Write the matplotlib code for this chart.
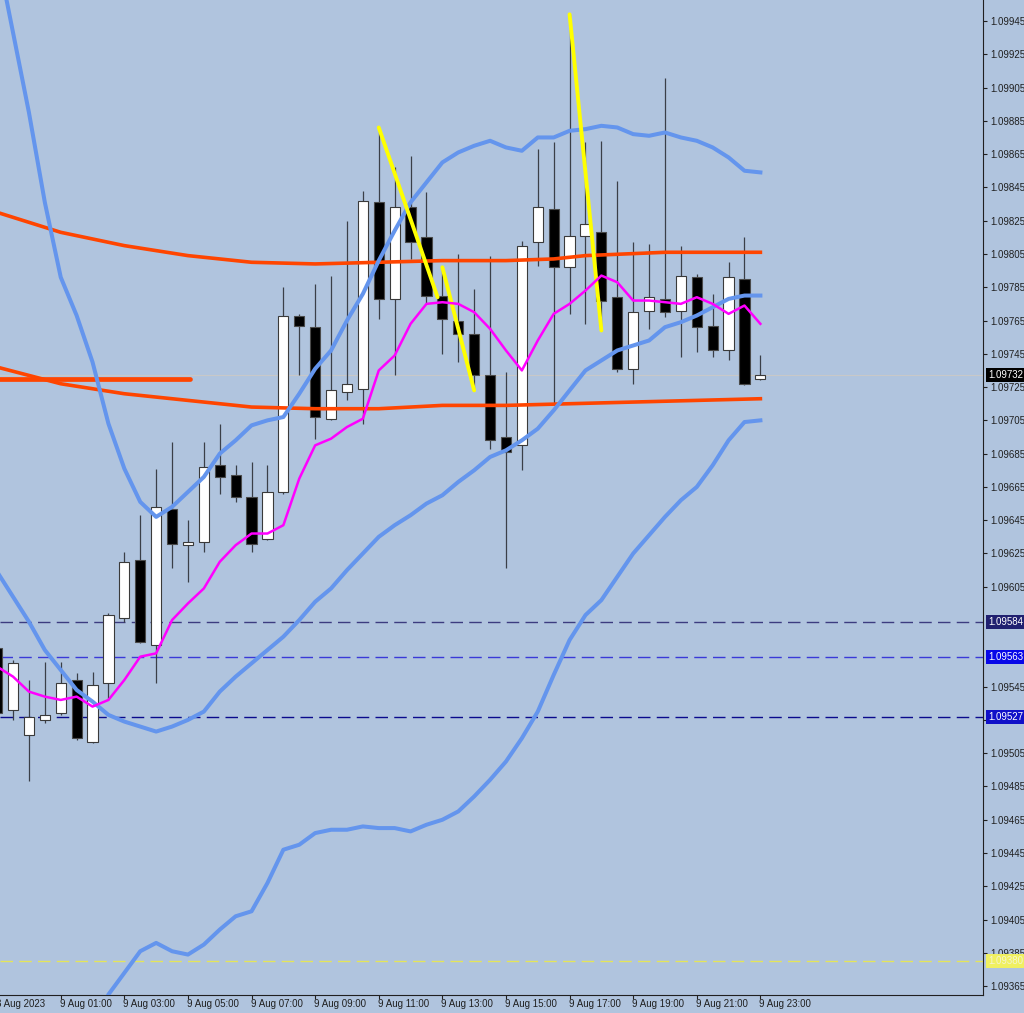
import matplotlib
matplotlib.use("Agg")
import matplotlib.pyplot as plt
import matplotlib.transforms as mtransforms
import numpy as np

# EURUSD M30, bar index 0 = 9 Aug 00:00
bar_idx = list(range(-2, 47))
opens = [1.09568, 1.09531, 1.09516, 1.09525, 1.09529, 1.09549, 1.09512, 1.09547, 1.09586, 1.09621,
         1.09570, 1.09652, 1.09630, 1.09632, 1.09678, 1.09672, 1.09659, 1.09634, 1.09662, 1.09768,
         1.09761, 1.09706, 1.09722, 1.09724, 1.09836, 1.09778, 1.09833, 1.09815, 1.09780, 1.09765,
         1.09757, 1.09732, 1.09695, 1.09690, 1.09812, 1.09832, 1.09797, 1.09816, 1.09818, 1.09779,
         1.09736, 1.09771, 1.09778, 1.09771, 1.09791, 1.09762, 1.09747, 1.09790, 1.09730]
highs = [1.09570, 1.09561, 1.09549, 1.09560, 1.09560, 1.09553, 1.09554, 1.09589, 1.09626, 1.09648,
         1.09676, 1.09692, 1.09645, 1.09692, 1.09703, 1.09678, 1.09680, 1.09678, 1.09785, 1.09769,
         1.09787, 1.09792, 1.09825, 1.09843, 1.09881, 1.09857, 1.09864, 1.09842, 1.09797, 1.09805,
         1.09784, 1.09804, 1.09734, 1.09813, 1.09868, 1.09872, 1.09949, 1.09872, 1.09873, 1.09849,
         1.09812, 1.09811, 1.09911, 1.09810, 1.09793, 1.09781, 1.09800, 1.09815, 1.09744]
lows = [1.09527, 1.09525, 1.09488, 1.09523, 1.09528, 1.09513, 1.09511, 1.09537, 1.09584, 1.09571,
        1.09547, 1.09616, 1.09608, 1.09626, 1.09661, 1.09656, 1.09626, 1.09633, 1.09661, 1.09732,
        1.09694, 1.09705, 1.09717, 1.09703, 1.09766, 1.09732, 1.09802, 1.09775, 1.09745, 1.09740,
        1.09723, 1.09688, 1.09616, 1.09675, 1.09798, 1.09714, 1.09769, 1.09763, 1.09759, 1.09734,
        1.09727, 1.09760, 1.09767, 1.09743, 1.09746, 1.09743, 1.09741, 1.09726, 1.09729]
closes = [1.09529, 1.09559, 1.09527, 1.09528, 1.09547, 1.09514, 1.09546, 1.09588, 1.09620, 1.09572,
          1.09653, 1.09631, 1.09632, 1.09677, 1.09671, 1.09659, 1.09631, 1.09662, 1.09768, 1.09762,
          1.09707, 1.09723, 1.09727, 1.09837, 1.09778, 1.09833, 1.09812, 1.09780, 1.09766, 1.09757,
          1.09732, 1.09693, 1.09686, 1.09810, 1.09833, 1.09797, 1.09816, 1.09823, 1.09777, 1.09736,
          1.09770, 1.09779, 1.09770, 1.09792, 1.09761, 1.09747, 1.09791, 1.09727, 1.09732]

bb_upper = [1.09986, 1.09938, 1.09890, 1.09836, 1.09791, 1.09768, 1.09740, 1.09703, 1.09676, 1.09656,
            1.09647, 1.09653, 1.09662, 1.09671, 1.09685, 1.09693, 1.09702, 1.09705, 1.09707, 1.09721,
            1.09736, 1.09747, 1.09765, 1.09781, 1.09801, 1.09819, 1.09836, 1.09848, 1.09860, 1.09866,
            1.09870, 1.09873, 1.09869, 1.09867, 1.09875, 1.09875, 1.09879, 1.09880, 1.09882, 1.09881,
            1.09877, 1.09876, 1.09878, 1.09875, 1.09873, 1.09869, 1.09863, 1.09855, 1.09854]
bb_mid = [1.09614, 1.09599, 1.09584, 1.09567, 1.09555, 1.09543, 1.09536, 1.09528, 1.09524, 1.09521,
          1.09518, 1.09521, 1.09525, 1.09530, 1.09542, 1.09551, 1.09559, 1.09567, 1.09575, 1.09585,
          1.09596, 1.09604, 1.09615, 1.09625, 1.09635, 1.09642, 1.09648, 1.09655, 1.09660, 1.09668,
          1.09675, 1.09683, 1.09687, 1.09693, 1.09700, 1.09711, 1.09723, 1.09735, 1.09741, 1.09747,
          1.09750, 1.09753, 1.09761, 1.09764, 1.09768, 1.09773, 1.09778, 1.09780, 1.09780]
bb_lower_idx = list(range(3, 47))
bb_lower = [1.09319, 1.09339, 1.09360, 1.09373, 1.09386, 1.09391, 1.09386, 1.09384, 1.09390, 1.09399,
            1.09407, 1.09410, 1.09427, 1.09447, 1.09450, 1.09457, 1.09459, 1.09459, 1.09461, 1.09460,
            1.09460, 1.09458, 1.09462, 1.09465, 1.09470, 1.09479, 1.09489, 1.09500, 1.09514, 1.09530,
            1.09552, 1.09573, 1.09588, 1.09597, 1.09611, 1.09625, 1.09636, 1.09647, 1.09657, 1.09665,
            1.09678, 1.09693, 1.09704, 1.09705]
ma_fast = [1.09557, 1.09551, 1.09542, 1.09539, 1.09537, 1.09539, 1.09533, 1.09537, 1.09549, 1.09563,
           1.09565, 1.09585, 1.09595, 1.09604, 1.09620, 1.09630, 1.09637, 1.09637, 1.09642, 1.09670,
           1.09690, 1.09694, 1.09701, 1.09706, 1.09735, 1.09744, 1.09763, 1.09775, 1.09776, 1.09775,
           1.09770, 1.09760, 1.09747, 1.09735, 1.09753, 1.09769, 1.09775, 1.09783, 1.09792, 1.09788,
           1.09777, 1.09777, 1.09776, 1.09775, 1.09779, 1.09775, 1.09769, 1.09774, 1.09763]

ma_hi_idx = [-2, 2, 6, 10, 14, 18, 22, 26, 30, 33, 35, 40, 46]
ma_hi = [1.09830, 1.09818, 1.09810, 1.09804, 1.09800, 1.09799, 1.09800, 1.09801, 1.09801, 1.09802,
         1.09804, 1.09806, 1.09806]
ma_lo_idx = [-2, 2, 6, 10, 14, 18, 22, 26, 30, 34, 38, 42, 46]
ma_lo = [1.09737, 1.09727, 1.09721, 1.09717, 1.09713, 1.09712, 1.09712, 1.09714, 1.09714, 1.09715,
         1.09716, 1.09717, 1.09718]
hline_orange = 1.09730
hline_orange_span = (-2.5, 10.1)

zigzag = [((22, 1.09881), (25.7, 1.09779)),
          ((26, 1.09797), (28, 1.09723)),
          ((34, 1.09949), (36, 1.09759))]

levels = [1.09584, 1.09563, 1.09527, 1.09380]
level_line_colors = ['#3c3c80', '#3a3ad8', '#0a0a8c', '#e4e45a']
level_box_colors = ['#202070', '#0808e8', '#1010c8', '#f0f060']
level_text_colors = ['white', 'white', 'white', '#f4f4d0']
bid = 1.09732

price_ticks = [1.09945, 1.09925, 1.09905, 1.09885, 1.09865, 1.09845, 1.09825, 1.09805, 1.09785,
               1.09765, 1.09745, 1.09725, 1.09705, 1.09685, 1.09665, 1.09645, 1.09625, 1.09605,
               1.09545, 1.09525, 1.09505, 1.09485, 1.09465, 1.09445, 1.09425, 1.09405, 1.09385,
               1.09365]

time_ticks = [-2, 2, 6, 10, 14, 18, 22, 26, 30, 34, 38, 42, 46]
time_labels = ['8 Aug 2023', '9 Aug 01:00', '9 Aug 03:00', '9 Aug 05:00', '9 Aug 07:00',
               '9 Aug 09:00', '9 Aug 11:00', '9 Aug 13:00', '9 Aug 15:00', '9 Aug 17:00',
               '9 Aug 19:00', '9 Aug 21:00', '9 Aug 23:00']

bg = '#b0c4de'
fs = 7.0
plt.rcParams['font.family'] = 'Liberation Sans'
plt.rcParams['lines.scale_dashes'] = False

fig = plt.figure(figsize=(10.24, 10.13), dpi=100, facecolor=bg)
ax = fig.add_axes([0, 18 / 1013, 983 / 1024, 995 / 1013], facecolor=bg)
ax.set_xlim(-1.82, 60.0)
ax.set_ylim(1.093597, 1.099576)

# levels
for lv, lc in zip(levels, level_line_colors):
    ax.axhline(lv, color=lc, lw=1.0, dashes=(9, 4.5), zorder=1)
ax.axhline(bid, color='#c8c8c8', lw=0.8, zorder=1)

# candles
x = np.array(bar_idx)
o, h, l, c = map(np.array, (opens, highs, lows, closes))
ax.vlines(x, l, h, color='#3a3f48', lw=0.9, zorder=2)
up = c >= o
body_lo = np.minimum(o, c)
body_h = np.maximum(np.abs(c - o), 0.000012)
ax.bar(x[up], body_h[up], bottom=body_lo[up], width=0.64, color='white',
       edgecolor='#3a3a3a', linewidth=0.8, zorder=3)
ax.bar(x[~up], body_h[~up], bottom=body_lo[~up], width=0.64, color='black',
       edgecolor='#4a4a4a', linewidth=0.8, zorder=3)

# indicators
ax.plot(ma_hi_idx, ma_hi, color='#ff4500', lw=2.6, zorder=4)
ax.plot(ma_lo_idx, ma_lo, color='#ff4500', lw=2.6, zorder=4)
ax.plot(hline_orange_span, [hline_orange] * 2, color='#ff4500', lw=3.4,
        solid_capstyle='round', zorder=4)
ax.plot(bar_idx, bb_upper, color='#6495ed', lw=2.9, zorder=4)
ax.plot(bar_idx, bb_mid, color='#6495ed', lw=2.9, zorder=4)
ax.plot(bb_lower_idx, bb_lower, color='#6495ed', lw=2.9, zorder=4)
ax.plot(bar_idx, ma_fast, color='#ff00ff', lw=1.8, zorder=5)
for (x0, y0), (x1, y1) in zigzag:
    ax.plot([x0, x1], [y0, y1], color='#ffff00', lw=2.8, solid_capstyle='round', zorder=4)

# axes styling
for s in ('left', 'top'):
    ax.spines[s].set_visible(False)
for s in ('right', 'bottom'):
    ax.spines[s].set_color('#202020')
    ax.spines[s].set_linewidth(0.8)
ax.yaxis.tick_right()
ax.set_yticks(price_ticks)
ax.set_yticklabels([f'{v:.5f}' for v in price_ticks])
ax.tick_params(axis='y', direction='out', length=3, width=0.8, pad=2, labelsize=fs,
               colors='#202020')
ax.set_xticks([t for t in time_ticks if t > -1.8])
ax.set_xticklabels([])
ax.tick_params(axis='x', direction='out', length=3, width=0.8, colors='#202020')

xtr = mtransforms.offset_copy(ax.get_xaxis_transform(), fig=fig, x=-1, y=-4, units='dots')
for t, lab in zip(time_ticks, time_labels):
    ax.text(t, 0, lab, transform=xtr, ha='left', va='top', fontsize=fs,
            color='#202020', clip_on=False)

# price boxes on the scale
btr = mtransforms.offset_copy(mtransforms.blended_transform_factory(ax.transAxes, ax.transData),
                              fig=fig, x=5, y=0, units='dots')
ax.text(1.0, bid, f'{bid:.5f}', transform=btr, ha='left', va='center', fontsize=fs,
        color='white', clip_on=False, zorder=10,
        bbox=dict(boxstyle='square,pad=0.2', fc='black', ec='none'))
for lv, bc, tc in zip(levels, level_box_colors, level_text_colors):
    ax.text(1.0, lv, f'{lv:.5f}', transform=btr, ha='left', va='center', fontsize=fs,
            color=tc, clip_on=False, zorder=10,
            bbox=dict(boxstyle='square,pad=0.2', fc=bc, ec='none'))

fig.savefig('out.png', dpi=100, facecolor=bg)
